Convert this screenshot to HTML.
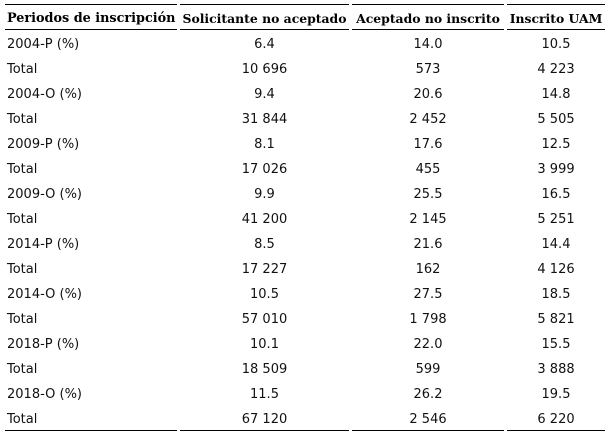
<!DOCTYPE html>
<html><head><meta charset="utf-8">
<style>
html,body{margin:0;padding:0;background:#fff;}
body{width:611px;height:436px;position:relative;overflow:hidden;}
.l{position:absolute;height:1px;background:#000;}
.c{position:absolute;height:25px;line-height:25px;white-space:nowrap;color:#000;}
.h{font-family:"DejaVu Serif","Liberation Serif",serif;font-weight:bold;font-size:12.4px;top:6px;text-align:center;}
.b{font-family:"DejaVu Sans","Liberation Sans",sans-serif;font-size:13px;margin-top:2px;color:#111;}
.c1{left:7px;width:170px;text-align:left;}
.c2{left:180px;width:169px;text-align:center;}
.c3{left:352px;width:152px;text-align:center;}
.c4{left:507px;width:98px;text-align:center;}
</style></head><body>
<div class="l" style="left:5px;width:172px;top:4px"></div>
<div class="l" style="left:180px;width:169px;top:4px"></div>
<div class="l" style="left:352px;width:152px;top:4px"></div>
<div class="l" style="left:507px;width:98px;top:4px"></div>

<div class="l" style="left:5px;width:172px;top:29px;height:1px"></div>
<div class="l" style="left:180px;width:169px;top:29px"></div>
<div class="l" style="left:352px;width:152px;top:29px"></div>
<div class="l" style="left:507px;width:98px;top:29px"></div>

<div class="l" style="left:5px;width:172px;top:430px"></div>
<div class="l" style="left:180px;width:169px;top:430px"></div>
<div class="l" style="left:352px;width:152px;top:430px"></div>
<div class="l" style="left:507px;width:98px;top:430px"></div>

<div class="c h c1" style="text-align:left;font-size:12.8px">Periodos de inscripción</div>
<div class="c h c2">Solicitante no aceptado</div>
<div class="c h c3">Aceptado no inscrito</div>
<div class="c h c4">Inscrito UAM</div>

<div class="c b c1" style="top:30px">2004-P (%)</div><div class="c b c2" style="top:30px">6.4</div><div class="c b c3" style="top:30px">14.0</div><div class="c b c4" style="top:30px">10.5</div>
<div class="c b c1" style="top:55px">Total</div><div class="c b c2" style="top:55px">10 696</div><div class="c b c3" style="top:55px">573</div><div class="c b c4" style="top:55px">4 223</div>
<div class="c b c1" style="top:80px">2004-O (%)</div><div class="c b c2" style="top:80px">9.4</div><div class="c b c3" style="top:80px">20.6</div><div class="c b c4" style="top:80px">14.8</div>
<div class="c b c1" style="top:105px">Total</div><div class="c b c2" style="top:105px">31 844</div><div class="c b c3" style="top:105px">2 452</div><div class="c b c4" style="top:105px">5 505</div>
<div class="c b c1" style="top:130px">2009-P (%)</div><div class="c b c2" style="top:130px">8.1</div><div class="c b c3" style="top:130px">17.6</div><div class="c b c4" style="top:130px">12.5</div>
<div class="c b c1" style="top:155px">Total</div><div class="c b c2" style="top:155px">17 026</div><div class="c b c3" style="top:155px">455</div><div class="c b c4" style="top:155px">3 999</div>
<div class="c b c1" style="top:180px">2009-O (%)</div><div class="c b c2" style="top:180px">9.9</div><div class="c b c3" style="top:180px">25.5</div><div class="c b c4" style="top:180px">16.5</div>
<div class="c b c1" style="top:205px">Total</div><div class="c b c2" style="top:205px">41 200</div><div class="c b c3" style="top:205px">2 145</div><div class="c b c4" style="top:205px">5 251</div>
<div class="c b c1" style="top:230px">2014-P (%)</div><div class="c b c2" style="top:230px">8.5</div><div class="c b c3" style="top:230px">21.6</div><div class="c b c4" style="top:230px">14.4</div>
<div class="c b c1" style="top:255px">Total</div><div class="c b c2" style="top:255px">17 227</div><div class="c b c3" style="top:255px">162</div><div class="c b c4" style="top:255px">4 126</div>
<div class="c b c1" style="top:280px">2014-O (%)</div><div class="c b c2" style="top:280px">10.5</div><div class="c b c3" style="top:280px">27.5</div><div class="c b c4" style="top:280px">18.5</div>
<div class="c b c1" style="top:305px">Total</div><div class="c b c2" style="top:305px">57 010</div><div class="c b c3" style="top:305px">1 798</div><div class="c b c4" style="top:305px">5 821</div>
<div class="c b c1" style="top:330px">2018-P (%)</div><div class="c b c2" style="top:330px">10.1</div><div class="c b c3" style="top:330px">22.0</div><div class="c b c4" style="top:330px">15.5</div>
<div class="c b c1" style="top:355px">Total</div><div class="c b c2" style="top:355px">18 509</div><div class="c b c3" style="top:355px">599</div><div class="c b c4" style="top:355px">3 888</div>
<div class="c b c1" style="top:380px">2018-O (%)</div><div class="c b c2" style="top:380px">11.5</div><div class="c b c3" style="top:380px">26.2</div><div class="c b c4" style="top:380px">19.5</div>
<div class="c b c1" style="top:405px">Total</div><div class="c b c2" style="top:405px">67 120</div><div class="c b c3" style="top:405px">2 546</div><div class="c b c4" style="top:405px">6 220</div>
</body></html>
